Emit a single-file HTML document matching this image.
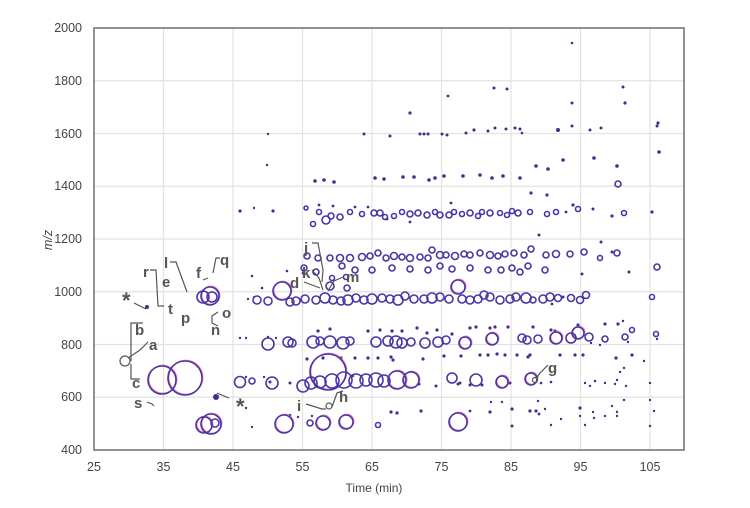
<!DOCTYPE html>
<html><head><meta charset="utf-8"><style>
html,body{margin:0;padding:0;background:#fff;}
svg{display:block;font-family:"Liberation Sans",sans-serif;}
.o{fill:none;stroke:#4a34a8;stroke-width:1.6}
.p{fill:none;stroke:#e0609a;stroke-width:1.3;opacity:.8}
.f{fill:#4a2a90;stroke:none}
</style></head><body>
<svg width="750" height="508" viewBox="0 0 750 508" xmlns="http://www.w3.org/2000/svg">
<g stroke="#e2e2e2" stroke-width="1.2">
<line x1="163.5" y1="28" x2="163.5" y2="450"/><line x1="233" y1="28" x2="233" y2="450"/>
<line x1="302.5" y1="28" x2="302.5" y2="450"/><line x1="372" y1="28" x2="372" y2="450"/>
<line x1="441.5" y1="28" x2="441.5" y2="450"/><line x1="511" y1="28" x2="511" y2="450"/>
<line x1="580.5" y1="28" x2="580.5" y2="450"/><line x1="650" y1="28" x2="650" y2="450"/>
<line x1="94" y1="80.75" x2="684" y2="80.75"/><line x1="94" y1="133.5" x2="684" y2="133.5"/>
<line x1="94" y1="186.25" x2="684" y2="186.25"/><line x1="94" y1="239" x2="684" y2="239"/>
<line x1="94" y1="291.75" x2="684" y2="291.75"/><line x1="94" y1="344.5" x2="684" y2="344.5"/>
<line x1="94" y1="397.25" x2="684" y2="397.25"/>
</g>
<rect x="94" y="28" width="590" height="422" fill="none" stroke="#777" stroke-width="1.6"/>
<g font-size="12.5" fill="#444" text-anchor="end">
<text x="82" y="32">2000</text><text x="82" y="85">1800</text><text x="82" y="138">1600</text>
<text x="82" y="190">1400</text><text x="82" y="243">1200</text><text x="82" y="296">1000</text>
<text x="82" y="349">800</text><text x="82" y="401">600</text><text x="82" y="454">400</text>
</g>
<g font-size="12.5" fill="#444" text-anchor="middle">
<text x="94" y="471">25</text><text x="163.5" y="471">35</text><text x="233" y="471">45</text>
<text x="302.5" y="471">55</text><text x="372" y="471">65</text><text x="441.5" y="471">75</text>
<text x="511" y="471">85</text><text x="580.5" y="471">95</text><text x="650" y="471">105</text>
<text x="374" y="492" font-size="12">Time (min)</text>
<text x="0" y="0" font-size="12.5" font-style="italic" transform="translate(52,240) rotate(-90)">m/z</text>
</g>
<!-- small dots -->
<g class="f">
<circle cx="572" cy="43" r="1.3"/><circle cx="410" cy="113" r="1.6"/><circle cx="494" cy="88" r="1.5"/><circle cx="507" cy="89" r="1.5"/><circle cx="623" cy="87" r="1.5"/><circle cx="625" cy="103" r="1.6"/><circle cx="572" cy="103" r="1.5"/><circle cx="572" cy="126" r="1.5"/><circle cx="658" cy="123" r="1.6"/><circle cx="448" cy="96" r="1.4"/>
<circle cx="364" cy="134" r="1.5"/><circle cx="390" cy="136" r="1.5"/><circle cx="420" cy="134" r="1.5"/><circle cx="424" cy="134" r="1.5"/><circle cx="428" cy="134" r="1.5"/><circle cx="442" cy="134" r="1.5"/><circle cx="447" cy="135" r="1.5"/><circle cx="466" cy="133" r="1.5"/><circle cx="474" cy="130" r="1.6"/><circle cx="488" cy="131" r="1.5"/><circle cx="495" cy="128" r="1.5"/><circle cx="506" cy="129" r="1.5"/><circle cx="515" cy="128" r="1.5"/><circle cx="520" cy="129" r="1.5"/><circle cx="522" cy="133" r="1.3"/><circle cx="558" cy="130" r="2"/><circle cx="590" cy="130" r="1.5"/><circle cx="601" cy="128" r="1.5"/><circle cx="657" cy="126" r="1.5"/><circle cx="268" cy="134" r="1.2"/>
<circle cx="315" cy="181" r="1.8"/><circle cx="324" cy="180" r="1.8"/><circle cx="334" cy="182" r="1.8"/><circle cx="375" cy="178" r="1.8"/><circle cx="384" cy="179" r="1.8"/><circle cx="403" cy="177" r="1.8"/><circle cx="414" cy="177" r="1.8"/><circle cx="429" cy="180" r="1.8"/><circle cx="435" cy="178" r="1.8"/><circle cx="444" cy="176" r="1.8"/><circle cx="463" cy="176" r="1.8"/><circle cx="480" cy="175" r="1.8"/><circle cx="492" cy="178" r="1.8"/><circle cx="503" cy="176" r="1.8"/><circle cx="520" cy="178" r="1.8"/><circle cx="536" cy="166" r="1.8"/><circle cx="548" cy="169" r="1.8"/><circle cx="563" cy="160" r="1.8"/><circle cx="594" cy="158" r="1.8"/><circle cx="617" cy="166" r="1.8"/><circle cx="659" cy="152" r="1.8"/>
<circle cx="240" cy="211" r="1.6"/><circle cx="254" cy="208" r="1.2"/><circle cx="273" cy="211" r="1.6"/><circle cx="319" cy="205" r="1.4"/><circle cx="333" cy="206" r="1.4"/><circle cx="355" cy="207" r="1.4"/><circle cx="368" cy="207" r="1.4"/><circle cx="387" cy="219" r="1.4"/><circle cx="410" cy="222" r="1.4"/><circle cx="451" cy="203" r="1.4"/><circle cx="531" cy="193" r="1.6"/><circle cx="547" cy="195" r="1.6"/><circle cx="566" cy="212" r="1.4"/><circle cx="573" cy="205" r="1.6"/><circle cx="612" cy="216" r="1.6"/><circle cx="593" cy="209" r="1.5"/><circle cx="652" cy="212" r="1.6"/>
<circle cx="252" cy="276" r="1.3"/><circle cx="262" cy="288" r="1.3"/><circle cx="248" cy="299" r="1.2"/><circle cx="287" cy="271" r="1.3"/><circle cx="303" cy="273" r="1.4"/>
<circle cx="539" cy="235" r="1.5"/><circle cx="601" cy="242" r="1.5"/><circle cx="612" cy="252" r="1.5"/><circle cx="629" cy="272" r="1.5"/><circle cx="582" cy="274" r="1.5"/><circle cx="563" cy="297" r="1.5"/><circle cx="552" cy="304" r="1.4"/>
<circle cx="240" cy="338" r="1.2"/><circle cx="246" cy="338" r="1.2"/><circle cx="268" cy="337" r="1.2"/><circle cx="276" cy="338" r="1.2"/><circle cx="318" cy="331" r="1.6"/><circle cx="330" cy="329" r="1.6"/><circle cx="368" cy="331" r="1.6"/><circle cx="380" cy="330" r="1.6"/><circle cx="392" cy="331" r="1.6"/><circle cx="402" cy="331" r="1.6"/><circle cx="417" cy="328" r="1.6"/><circle cx="427" cy="333" r="1.6"/><circle cx="437" cy="330" r="1.6"/><circle cx="452" cy="334" r="1.6"/><circle cx="470" cy="328" r="1.6"/><circle cx="476" cy="327" r="1.6"/><circle cx="490" cy="328" r="1.6"/><circle cx="495" cy="327" r="1.6"/><circle cx="508" cy="327" r="1.6"/><circle cx="533" cy="327" r="1.6"/><circle cx="551" cy="330" r="1.6"/><circle cx="555" cy="331" r="1.6"/><circle cx="578" cy="325" r="1.6"/><circle cx="605" cy="324" r="1.6"/><circle cx="618" cy="324" r="1.6"/><circle cx="623" cy="321" r="1.2"/><circle cx="657" cy="339" r="1.2"/><circle cx="591" cy="343" r="1.2"/><circle cx="600" cy="345" r="1.2"/><circle cx="628" cy="342" r="1.2"/>
<circle cx="307" cy="359" r="1.6"/><circle cx="323" cy="358" r="1.6"/><circle cx="341" cy="358" r="1.6"/><circle cx="355" cy="358" r="1.6"/><circle cx="368" cy="358" r="1.6"/><circle cx="378" cy="358" r="1.6"/><circle cx="391" cy="357" r="1.6"/><circle cx="393" cy="360" r="1.6"/><circle cx="423" cy="359" r="1.6"/><circle cx="444" cy="356" r="1.6"/><circle cx="461" cy="356" r="1.6"/><circle cx="480" cy="355" r="1.6"/><circle cx="488" cy="355" r="1.6"/><circle cx="497" cy="354" r="1.6"/><circle cx="505" cy="355" r="1.6"/><circle cx="517" cy="355" r="1.6"/><circle cx="530" cy="355" r="1.6"/><circle cx="528" cy="357" r="1.6"/><circle cx="560" cy="355" r="1.6"/><circle cx="575" cy="355" r="1.6"/><circle cx="583" cy="355" r="1.6"/><circle cx="616" cy="358" r="1.6"/><circle cx="632" cy="355" r="1.6"/>
<circle cx="270" cy="382" r="1.5"/><circle cx="290" cy="383" r="1.5"/><circle cx="419" cy="384" r="1.5"/><circle cx="436" cy="386" r="1.5"/><circle cx="458" cy="384" r="1.5"/><circle cx="470" cy="385" r="1.5"/><circle cx="460" cy="383" r="1.5"/><circle cx="482" cy="385" r="1.5"/><circle cx="510" cy="383" r="1.5"/><circle cx="541" cy="383" r="1.3"/><circle cx="551" cy="382" r="1.3"/><circle cx="585" cy="383" r="1.2"/><circle cx="595" cy="381" r="1.3"/><circle cx="590" cy="386" r="1.2"/><circle cx="605" cy="383" r="1.2"/><circle cx="615" cy="384" r="1.2"/><circle cx="617" cy="380" r="1.2"/><circle cx="626" cy="386" r="1.2"/><circle cx="650" cy="383" r="1.2"/><circle cx="624" cy="368" r="1.2"/><circle cx="644" cy="361" r="1.2"/><circle cx="620" cy="372" r="1.2"/>
<circle cx="298" cy="417" r="1.2"/><circle cx="312" cy="416" r="1.2"/><circle cx="391" cy="412" r="1.6"/><circle cx="397" cy="413" r="1.6"/><circle cx="421" cy="411" r="1.6"/><circle cx="470" cy="411" r="1.4"/><circle cx="490" cy="412" r="1.6"/><circle cx="512" cy="409" r="1.6"/><circle cx="530" cy="411" r="1.6"/><circle cx="536" cy="411" r="1.6"/><circle cx="539" cy="414" r="1.4"/><circle cx="512" cy="426" r="1.5"/><circle cx="491" cy="402" r="1.2"/><circle cx="502" cy="402" r="1.2"/><circle cx="538" cy="401" r="1.2"/><circle cx="545" cy="409" r="1.2"/><circle cx="551" cy="425" r="1.2"/><circle cx="561" cy="419" r="1.2"/><circle cx="580" cy="408" r="1.6"/><circle cx="580" cy="416" r="1.2"/><circle cx="585" cy="425" r="1.2"/><circle cx="593" cy="412" r="1.2"/><circle cx="594" cy="418" r="1.2"/><circle cx="605" cy="416" r="1.2"/><circle cx="612" cy="406" r="1.2"/><circle cx="617" cy="412" r="1.2"/><circle cx="617" cy="416" r="1.2"/><circle cx="624" cy="400" r="1.2"/><circle cx="650" cy="400" r="1.2"/><circle cx="650" cy="426" r="1.2"/><circle cx="654" cy="411" r="1.2"/><circle cx="252" cy="427" r="1.2"/><circle cx="246" cy="408" r="1.2"/><circle cx="246" cy="377" r="1.2"/><circle cx="264" cy="377" r="1.2"/><circle cx="353" cy="376" r="1.2"/>
<circle cx="216" cy="397" r="3"/><circle cx="147" cy="307" r="2"/><circle cx="254" cy="297" r="1"/><circle cx="267" cy="165" r="1.2"/><circle cx="290" cy="415" r="1.3"/>
</g>
<!-- medium rings with pink shadows -->
<g class="p" transform="translate(0.8,-0.7)">
<circle cx="162" cy="380" r="14"/><circle cx="185" cy="378" r="17"/><circle cx="328" cy="372" r="18"/><circle cx="204" cy="425" r="8"/><circle cx="211" cy="424" r="10"/><circle cx="210" cy="296" r="9"/><circle cx="282" cy="291" r="9"/><circle cx="458" cy="287" r="7"/><circle cx="284" cy="424" r="9"/><circle cx="323" cy="423" r="7"/><circle cx="346" cy="422" r="7"/><circle cx="458" cy="422" r="9"/><circle cx="397" cy="380" r="9"/><circle cx="411" cy="380" r="8"/><circle cx="556" cy="338" r="6"/><circle cx="492" cy="339" r="6"/><circle cx="465" cy="343" r="6"/><circle cx="531" cy="379" r="6"/><circle cx="502" cy="382" r="6"/><circle cx="578" cy="333" r="6"/>
</g>
<g class="o">
<circle cx="162" cy="380" r="14"/><circle cx="185" cy="378" r="17"/><circle cx="328" cy="372" r="18"/>
<circle cx="204" cy="425" r="8"/><circle cx="211" cy="424" r="10"/><circle cx="215" cy="423" r="4"/><circle cx="210" cy="296" r="9"/><circle cx="203" cy="297" r="6"/><circle cx="212" cy="297" r="5"/>
<circle cx="282" cy="291" r="9"/><circle cx="458" cy="287" r="7"/>
<circle cx="284" cy="424" r="9"/><circle cx="323" cy="423" r="7"/><circle cx="346" cy="422" r="7"/><circle cx="458" cy="422" r="9"/><circle cx="310" cy="423" r="3"/><circle cx="378" cy="425" r="2.5"/>
<circle cx="240" cy="382" r="5.5"/><circle cx="252" cy="381" r="3"/><circle cx="272" cy="383" r="6"/><circle cx="303" cy="386" r="6"/><circle cx="311" cy="383" r="6"/><circle cx="320" cy="382" r="6"/><circle cx="332" cy="381" r="7"/><circle cx="344" cy="380" r="8"/><circle cx="356" cy="381" r="7"/><circle cx="366" cy="380" r="6"/><circle cx="376" cy="380" r="7"/><circle cx="384" cy="381" r="6"/><circle cx="397" cy="380" r="9"/><circle cx="411" cy="380" r="8"/><circle cx="452" cy="378" r="5"/><circle cx="476" cy="380" r="6"/><circle cx="502" cy="382" r="6"/><circle cx="531" cy="379" r="6"/>
<circle cx="268" cy="344" r="6"/><circle cx="288" cy="342" r="5"/><circle cx="292" cy="343" r="4"/><circle cx="313" cy="342" r="6"/><circle cx="320" cy="341" r="4"/><circle cx="330" cy="342" r="6"/><circle cx="343" cy="343" r="6"/><circle cx="350" cy="341" r="4"/><circle cx="376" cy="342" r="5"/><circle cx="388" cy="341" r="5"/><circle cx="396" cy="342" r="6"/><circle cx="402" cy="343" r="5"/><circle cx="411" cy="342" r="4"/><circle cx="425" cy="343" r="5"/><circle cx="438" cy="342" r="5"/><circle cx="446" cy="340" r="4"/><circle cx="465" cy="343" r="6"/><circle cx="492" cy="339" r="6"/><circle cx="522" cy="338" r="4"/><circle cx="527" cy="340" r="4"/><circle cx="538" cy="339" r="4"/><circle cx="556" cy="338" r="6"/><circle cx="571" cy="338" r="5"/><circle cx="578" cy="333" r="6"/><circle cx="589" cy="337" r="4"/><circle cx="605" cy="339" r="3"/><circle cx="625" cy="337" r="3"/><circle cx="656" cy="334" r="2.5"/><circle cx="632" cy="330" r="2.5"/>
<circle cx="257" cy="300" r="4"/><circle cx="268" cy="301" r="4"/><circle cx="290" cy="302" r="4"/><circle cx="296" cy="301" r="4"/><circle cx="305" cy="299" r="4"/><circle cx="316" cy="300" r="4"/><circle cx="325" cy="298" r="5"/><circle cx="333" cy="300" r="4"/><circle cx="341" cy="301" r="4"/><circle cx="348" cy="300" r="5"/><circle cx="356" cy="298" r="4"/><circle cx="364" cy="300" r="4"/><circle cx="372" cy="299" r="5"/><circle cx="382" cy="298" r="4"/><circle cx="390" cy="299" r="4"/><circle cx="398" cy="300" r="5"/><circle cx="405" cy="296" r="4"/><circle cx="414" cy="299" r="4"/><circle cx="424" cy="299" r="4"/><circle cx="432" cy="298" r="5"/><circle cx="440" cy="297" r="4"/><circle cx="449" cy="299" r="4"/><circle cx="462" cy="299" r="4"/><circle cx="470" cy="300" r="4"/><circle cx="478" cy="299" r="4"/><circle cx="484" cy="295" r="4"/><circle cx="490" cy="297" r="4"/><circle cx="500" cy="300" r="4"/><circle cx="510" cy="299" r="4"/><circle cx="516" cy="297" r="4"/><circle cx="526" cy="298" r="5"/><circle cx="533" cy="300" r="3"/><circle cx="543" cy="299" r="4"/><circle cx="550" cy="297" r="4"/><circle cx="558" cy="298" r="3.5"/><circle cx="571" cy="298" r="3.5"/><circle cx="580" cy="300" r="3.5"/><circle cx="586" cy="295" r="3.5"/><circle cx="652" cy="297" r="2.5"/>
<circle cx="307" cy="256" r="3"/><circle cx="318" cy="258" r="3"/><circle cx="330" cy="258" r="3"/><circle cx="340" cy="258" r="3.5"/><circle cx="350" cy="258" r="3.5"/><circle cx="362" cy="257" r="3.5"/><circle cx="370" cy="256" r="3"/><circle cx="378" cy="253" r="3"/><circle cx="386" cy="258" r="3"/><circle cx="394" cy="256" r="3.5"/><circle cx="402" cy="257" r="3"/><circle cx="410" cy="258" r="3.5"/><circle cx="420" cy="257" r="3"/><circle cx="428" cy="258" r="3"/><circle cx="432" cy="250" r="3"/><circle cx="440" cy="255" r="3.5"/><circle cx="446" cy="255" r="3"/><circle cx="455" cy="256" r="3.5"/><circle cx="464" cy="254" r="3"/><circle cx="470" cy="255" r="3"/><circle cx="480" cy="253" r="3"/><circle cx="490" cy="255" r="3.5"/><circle cx="498" cy="256" r="3"/><circle cx="505" cy="254" r="3"/><circle cx="514" cy="253" r="3"/><circle cx="524" cy="255" r="3"/><circle cx="531" cy="249" r="3"/><circle cx="546" cy="255" r="3"/><circle cx="556" cy="254" r="3.5"/><circle cx="570" cy="254" r="3"/><circle cx="584" cy="252" r="3"/><circle cx="600" cy="258" r="2.5"/><circle cx="617" cy="253" r="3"/><circle cx="657" cy="267" r="3"/>
<circle cx="304" cy="268" r="3"/><circle cx="316" cy="272" r="3"/><circle cx="342" cy="266" r="3"/><circle cx="355" cy="270" r="3"/><circle cx="372" cy="270" r="3"/><circle cx="392" cy="268" r="3"/><circle cx="410" cy="269" r="3"/><circle cx="428" cy="270" r="3"/><circle cx="440" cy="266" r="3"/><circle cx="452" cy="269" r="3"/><circle cx="470" cy="268" r="3"/><circle cx="488" cy="270" r="3"/><circle cx="501" cy="270" r="3"/><circle cx="512" cy="268" r="3"/><circle cx="520" cy="272" r="3"/><circle cx="528" cy="266" r="3"/><circle cx="545" cy="270" r="3"/><circle cx="330" cy="286" r="4"/><circle cx="347" cy="288" r="3"/><circle cx="332" cy="278" r="2.5"/><circle cx="346" cy="277" r="2.5"/>
<circle cx="319" cy="212" r="2.5"/><circle cx="326" cy="220" r="4"/><circle cx="331" cy="216" r="3"/><circle cx="340" cy="217" r="3"/><circle cx="350" cy="212" r="2.5"/><circle cx="362" cy="214" r="2.5"/><circle cx="374" cy="213" r="3"/><circle cx="380" cy="213" r="3"/><circle cx="385" cy="217" r="2.5"/><circle cx="394" cy="216" r="2.5"/><circle cx="402" cy="212" r="2.5"/><circle cx="410" cy="214" r="3"/><circle cx="418" cy="213" r="3"/><circle cx="427" cy="215" r="3"/><circle cx="435" cy="212" r="2.5"/><circle cx="440" cy="215" r="3"/><circle cx="449" cy="215" r="3"/><circle cx="454" cy="212" r="2.5"/><circle cx="462" cy="214" r="2.5"/><circle cx="470" cy="213" r="3"/><circle cx="478" cy="216" r="2.5"/><circle cx="482" cy="212" r="2.5"/><circle cx="490" cy="213" r="3"/><circle cx="500" cy="213" r="2.5"/><circle cx="507" cy="215" r="2.5"/><circle cx="512" cy="211" r="2.5"/><circle cx="518" cy="213" r="3"/><circle cx="530" cy="212" r="2.5"/><circle cx="547" cy="214" r="2.5"/><circle cx="556" cy="212" r="2.5"/><circle cx="624" cy="213" r="2.5"/><circle cx="618" cy="184" r="3"/><circle cx="578" cy="209" r="2.5"/><circle cx="306" cy="208" r="2"/><circle cx="313" cy="224" r="2.5"/>
</g>
<g fill="#555" font-size="15" font-weight="bold">
<text x="304" y="253">j</text><text x="220" y="265">q</text><text x="164" y="268">l</text>
<text x="143" y="277">r</text><text x="196" y="278">f</text><text x="162" y="287">e</text>
<text x="122" y="308" font-size="22">*</text><text x="168" y="314">t</text><text x="181" y="323">p</text>
<text x="222" y="318">o</text><text x="211" y="335">n</text><text x="135" y="335">b</text>
<text x="149" y="350">a</text><text x="132" y="388">c</text><text x="134" y="408">s</text>
<text x="236" y="414" font-size="22">*</text><text x="297" y="411">i</text><text x="339" y="402">h</text>
<text x="290" y="288">d</text><text x="302" y="278">k</text><text x="346" y="282">m</text>
<text x="548" y="373">g</text>
</g>
<g fill="none" stroke="#555" stroke-width="1.2">
<polyline points="312,243 318,243 323,270 322,282"/><polyline points="220,258 216,258 213,273"/>
<polyline points="170,262 176,262 187,292"/><polyline points="150,270 156,270 158,306 164,306"/>
<polyline points="203,280 208,278"/><polyline points="134,303 146,309"/><polyline points="218,312 212,316 212,323 218,326"/>
<polyline points="143,323 131,323 131,361"/><polyline points="148,342 140,350 128,358"/><polyline points="140,379 131,379 131,364"/>
<polyline points="147,402 152,404 154,406"/><polyline points="229,398 217,393"/><polyline points="306,404 322,409 326,409"/>
<polyline points="343,391 337,393 332,407"/><polyline points="304,282 320,288"/><polyline points="312,270 319,278 323,290"/>
<polyline points="343,277 334,281 328,291"/><polyline points="548,365 540,373 536,379"/>
<circle cx="125" cy="361" r="5"/><circle cx="329" cy="406" r="3"/><circle cx="535" cy="380" r="2.5"/>
</g>
</svg>
</body></html>
